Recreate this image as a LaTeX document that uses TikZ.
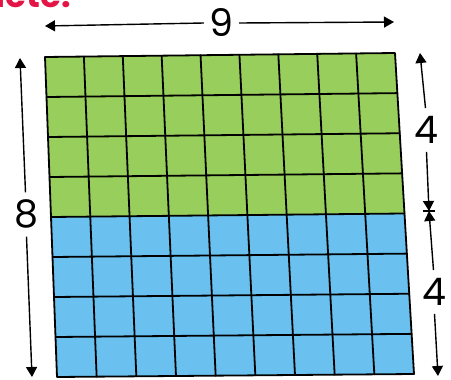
\documentclass[tikz,border=0pt]{standalone}
\usepackage{fontspec}
\setmainfont{Poppins}
\usetikzlibrary{calc,arrows.meta}
\definecolor{gridgreen}{RGB}{152,206,92}
\definecolor{gridblue}{RGB}{106,192,238}
\definecolor{titlered}{RGB}{228,20,70}
\begin{document}
\begin{tikzpicture}[x=1pt,y=-1pt,
  gridline/.style={line width=1.8pt, black, line cap=round, line join=round},
  dimline/.style={line width=1.4pt, black},
  tipend/.style={-{Triangle[length=10pt,width=11pt]}},
  dimlabel/.style={font=\fontsize{38}{40}\selectfont, inner sep=0pt}]
\useasboundingbox (0,0) rectangle (451,380);
\clip (0,0) rectangle (451,380);
\fill[white] (0,0) rectangle (451,380);
% partial heading (cut off at the top edge, as in the reference)
\node[anchor=base east, text=titlered, inner sep=0pt, font=\bfseries\fontsize{34}{40}\selectfont] (title) at (71,7) {Complete:};
% grid corners
\coordinate (A) at (45,57);
\coordinate (B) at (395,53);
\coordinate (C) at (414,374);
\coordinate (D) at (57,377);
\coordinate (ML) at ($(A)!0.5!(D)$);
\coordinate (MR) at ($(B)!0.5!(C)$);
\fill[gridgreen] (A) -- (B) -- (MR) -- (ML) -- cycle;
\fill[gridblue] (ML) -- (MR) -- (C) -- (D) -- cycle;
\foreach \i in {1,...,8}
  \draw[gridline] ($(A)!{\i/9}!(B)$) -- ($(D)!{\i/9}!(C)$);
\foreach \j in {1,...,7}
  \draw[gridline] ($(A)!{\j/8}!(D)$) -- ($(B)!{\j/8}!(C)$);
\draw[gridline] (A) -- (B) -- (C) -- (D) -- cycle;
% top dimension 9
\node[dimlabel] (n9) at (221,23) {9};
\coordinate (t9l) at (45,26);
\coordinate (t9r) at (394,22);
\draw[dimline,tipend] (n9.west) ++(-5,0) coordinate (n9w) (n9w) -- (t9l);
\draw[dimline,tipend] (n9.east) ++(6,0) coordinate (n9e) (n9e) -- (t9r);
% left dimension 8
\node[dimlabel] (n8) at (26,214) {8};
\coordinate (t8t) at (20,58);
\coordinate (t8b) at (32,377);
\draw[dimline,tipend] ($(n8.north)+(-0.5,-7)$) coordinate (n8n) (n8n) -- (t8t);
\draw[dimline,tipend] ($(n8.south)+(0.5,8)$) coordinate (n8s) (n8s) -- (t8b);
% right dimensions 4 and 4
\coordinate (r4t) at (420,53);
\coordinate (r4m) at (429,211);
\coordinate (r4b) at (438,376);
\node[dimlabel] (n4a) at (426,130) {4};
\node[dimlabel] (n4b) at (434,292) {4};
\draw[dimline,tipend] ($(n4a.north)+(-0.5,-8)$) coordinate (n4an) (n4an) -- (r4t);
\draw[dimline,tipend] ($(n4a.south)+(0.5,8)$) coordinate (n4as) (n4as) -- (r4m);
\draw[dimline,tipend] ($(n4b.north)+(-0.5,-8)$) coordinate (n4bn) (n4bn) -- (r4m);
\draw[dimline,tipend] ($(n4b.south)+(0.5,8)$) coordinate (n4bs) (n4bs) -- (r4b);
\draw[dimline] ($(r4m)+(-6,0)$) coordinate (r4ml) (r4ml) -- ($(r4m)+(6,0)$);
\end{tikzpicture}
\end{document}
